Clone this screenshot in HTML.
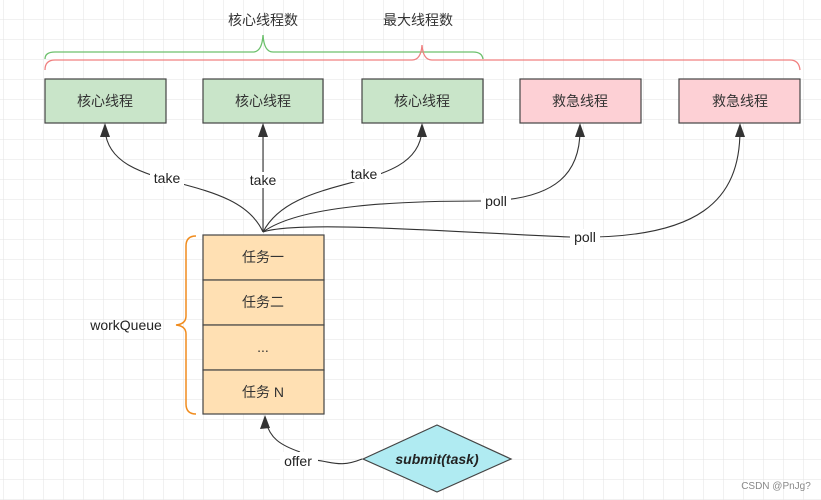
<!DOCTYPE html>
<html><head><meta charset="utf-8"><style>
body{margin:0;background:#fff}
svg{display:block;font-family:"Liberation Sans","Noto Sans CJK SC",sans-serif}
</style></head><body>
<svg width="821" height="500" viewBox="0 0 821 500" xmlns="http://www.w3.org/2000/svg">
<defs>
<pattern id="g" width="20" height="20" patternUnits="userSpaceOnUse" x="4" y="0">
<path d="M20 0V20M0 20H20" fill="none" stroke="#e3e3e3" stroke-width="1"/>
</pattern>
</defs>
<rect width="821" height="500" fill="url(#g)"/>
<path d="M45 59 Q45 52 55 52 L253 52 Q262 52 263 35 Q264 52 273 52 L473 52 Q482 52 483 59" fill="none" stroke="#6cc06c" stroke-width="1.3"/>
<path d="M45 70 Q45 60 55 60 L412 60 Q421 60 422 45 Q423 60 432 60 L790 60 Q799 60 800 70" fill="none" stroke="#f08080" stroke-width="1.3"/>
<text x="263" y="25" font-size="14" fill="#333" text-anchor="middle">核心线程数</text>
<text x="418" y="25" font-size="14" fill="#333" text-anchor="middle">最大线程数</text>
<g stroke="#444" stroke-width="1.2">
<rect x="45" y="79" width="121" height="44" fill="#c9e5c9"/>
<rect x="203" y="79" width="120" height="44" fill="#c9e5c9"/>
<rect x="362" y="79" width="121" height="44" fill="#c9e5c9"/>
<rect x="520" y="79" width="121" height="44" fill="#fdd0d5"/>
<rect x="679" y="79" width="121" height="44" fill="#fdd0d5"/>
</g>
<g font-size="14" fill="#333" text-anchor="middle">
<text x="105" y="106">核心线程</text><text x="263" y="106">核心线程</text><text x="422" y="106">核心线程</text>
<text x="580" y="106">救急线程</text><text x="740" y="106">救急线程</text>
</g>
<g fill="none" stroke="#333" stroke-width="1.1">
<path d="M263 232 C235 170 110 195 105 130"/>
<path d="M263 232 L263 130"/>
<path d="M263 232 C295 170 418 195 422 130"/>
<path d="M263 232 C300 205 400 201 480 201 C560 201 580 170 580 130"/>
<path d="M263 232 C300 220 450 232 570 237 C700 240 740 200 740 130"/>
<path d="M362 459 C335 470 330 458 300 460"/>
<path d="M300 452 C280 445 270 438 266 422"/>
</g>
<g fill="#333">
<path d="M105 123 L100 137 L110 137Z"/>
<path d="M263 123 L258 137 L268 137Z"/>
<path d="M422 123 L417 137 L427 137Z"/>
<path d="M580 123 L575 137 L585 137Z"/>
<path d="M740 123 L735 137 L745 137Z"/>
<path d="M265 415 L260 429 L270 428Z"/>
</g>
<g font-size="14" fill="#222" text-anchor="middle">
<rect x="150" y="170" width="34" height="16" fill="#fff"/><text x="167" y="183">take</text>
<rect x="246" y="172" width="34" height="16" fill="#fff"/><text x="263" y="185">take</text>
<rect x="347" y="166" width="34" height="16" fill="#fff"/><text x="364" y="179">take</text>
<rect x="481" y="193" width="30" height="16" fill="#fff"/><text x="496" y="206">poll</text>
<rect x="570" y="229" width="30" height="16" fill="#fff"/><text x="585" y="242">poll</text>
<rect x="280" y="452" width="38" height="16" fill="#fff"/><text x="298" y="466">offer</text>
<text x="126" y="330">workQueue</text>
</g>
<path d="M196 236 Q186 236 186 246 L186 316 Q186 324 176 325 Q186 326 186 334 L186 404 Q186 414 196 414" fill="none" stroke="#f08c1e" stroke-width="1.5"/>
<g stroke="#444" stroke-width="1.2" fill="#ffe0b3">
<rect x="203" y="235" width="121" height="45"/>
<rect x="203" y="280" width="121" height="45"/>
<rect x="203" y="325" width="121" height="45"/>
<rect x="203" y="370" width="121" height="44"/>
</g>
<g font-size="14" fill="#333" text-anchor="middle">
<text x="263" y="262">任务一</text><text x="263" y="307">任务二</text><text x="263" y="352">...</text><text x="263" y="397">任务 N</text>
</g>
<path d="M363 459 L437 425 L511 459 L437 492Z" fill="#b0ebf2" stroke="#444" stroke-width="1.2"/>
<text x="437" y="464" font-size="14" font-weight="bold" font-style="italic" fill="#222" text-anchor="middle">submit(task)</text>
<text x="776" y="489" font-size="10" fill="#888" text-anchor="middle">CSDN @PnJg?</text>
</svg>
</body></html>
